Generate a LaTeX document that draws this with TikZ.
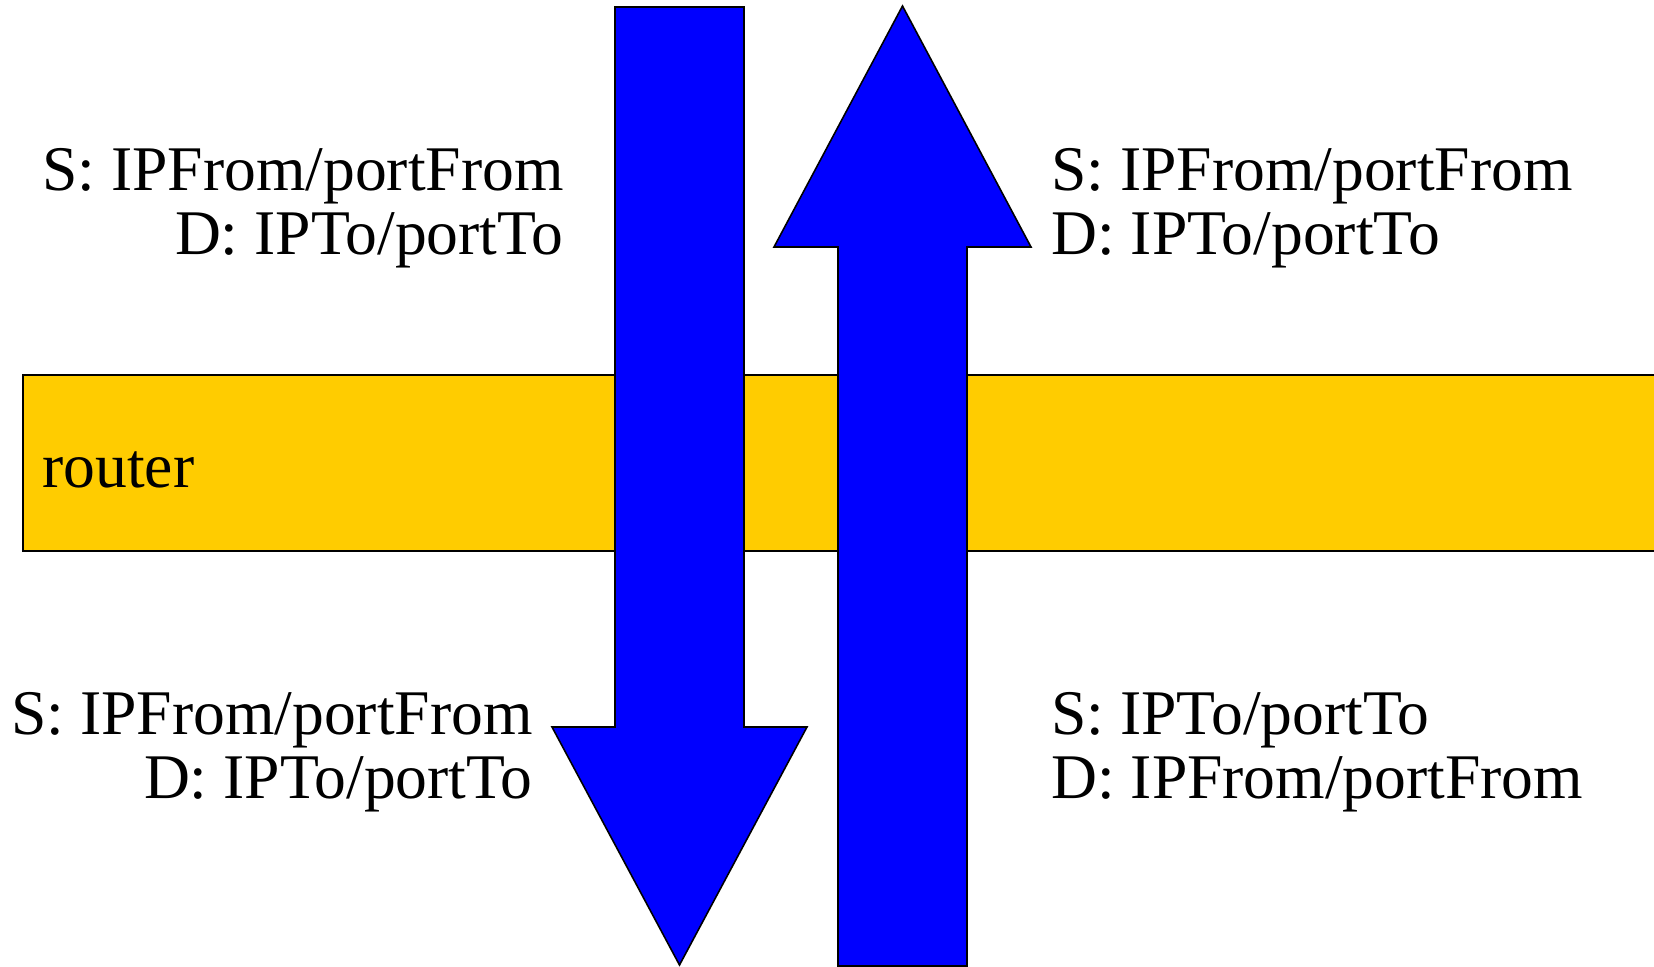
\documentclass[tikz,border=0pt]{standalone}
\usepackage{fontspec}
\setmainfont{Liberation Serif}
\usepackage{tikz}
\usetikzlibrary{positioning}

\definecolor{routeryellow}{RGB}{255,204,0}
\definecolor{flowblue}{RGB}{0,0,255}

\tikzset{
    flow/.style={fill=flowblue, draw=black, line width=0.9pt, line join=miter},
    box/.style={fill=routeryellow, draw=black, line width=0.9pt},
    tuple/.style={inner sep=0pt, font=\fontsize{36.2pt}{36pt}\selectfont}
}

\begin{document}
\begin{tikzpicture}[x=0.02cm, y=-0.02cm]

    \useasboundingbox (0,0) rectangle (1654,967);
    \clip (0,0) rectangle (1654,967);

    % The router as a wide band
    \draw[box] (23,375) rectangle (1680,551);
    \node[tuple, anchor=base west] (router) at (42,487) {router};

    % Outgoing packet (down) and reply (up)
    \draw[flow] (615,7) -- (744,7) -- (744,727) -- (807,727) -- (679.5,965)
        -- (552,727) -- (615,727) -- cycle;
    \draw[flow] (902.5,6) -- (1031,247) -- (967,247) -- (967,966)
        -- (838,966) -- (838,247) -- (774,247) -- cycle;

    % Address/port pairs on either side of the router
    % (base anchor sits on the second line)
    \node[tuple, align=right, anchor=base east] (outin) at (564,254)
        {S: IPFrom/portFrom\\D: IPTo/portTo};
    \node[tuple, align=right, anchor=base east] (outout) at (533,798)
        {S: IPFrom/portFrom\\D: IPTo/portTo};
    \node[tuple, align=left, anchor=base west] (backout) at (1051,254)
        {S: IPFrom/portFrom\\D: IPTo/portTo};
    \node[tuple, align=left, anchor=base west] (backin) at (1051,798)
        {S: IPTo/portTo\\D: IPFrom/portFrom};

\end{tikzpicture}
\end{document}
